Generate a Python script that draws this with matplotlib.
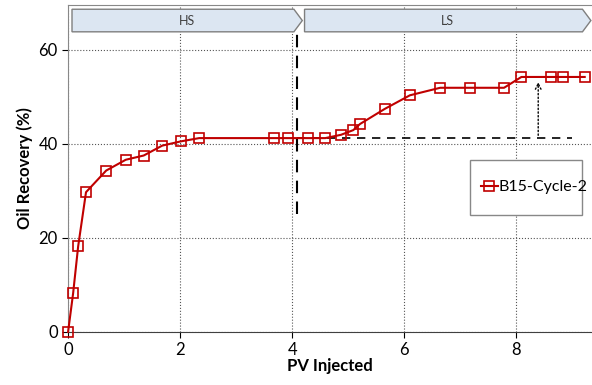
import matplotlib.pyplot as plt
from matplotlib.patches import Polygon, Rectangle

plt.rcParams['font.family'] = ['Lato', 'DejaVu Sans']

pv = [0, 0.09, 0.18, 0.32, 0.68, 1.03, 1.35, 1.68, 2.01, 2.34, 3.68, 3.93,
      4.29, 4.59, 4.87, 5.09, 5.21, 5.65, 6.10, 6.64, 7.18, 7.78, 8.09, 8.62, 8.84, 9.22]
recovery = [0, 8.2, 18.2, 29.7, 34.3, 36.6, 37.5, 39.6, 40.5, 41.2, 41.2, 41.2,
            41.2, 41.2, 41.9, 42.9, 44.2, 47.4, 50.3, 51.9, 51.9, 51.9, 54.2, 54.2, 54.2, 54.2]

switch_pv = 4.08
hs_level = 41.2
ls_level = 54.2

fig = plt.figure(figsize=(5.92, 3.85), dpi=100)
ax = fig.add_axes([0.115, 0.138, 0.885, 0.849])

ax.plot(pv, recovery, color='#c00000', lw=1.5, marker='s', markersize=6.5,
        markerfacecolor='none', markeredgewidth=1.2, label='B15-Cycle-2', clip_on=False, zorder=5)

# HS / LS switch and increment markers
ax.plot([switch_pv, switch_pv], [25, 67], color='black', lw=1.5, ls=(0, (6, 4)))
ax.plot([switch_pv, 9.0], [hs_level, hs_level], color='black', lw=1.2, ls=(0, (5, 4)))
ax.annotate('', xy=(8.39, ls_level - 0.5), xytext=(8.39, hs_level),
            arrowprops=dict(arrowstyle='->', ls=':', lw=1, color='black'))

# banners
def banner(x0, x1, label):
    y0, y1 = 63.8, 68.6
    tip = 0.15
    poly = Polygon([(x0, y0), (x1 - tip, y0), (x1, (y0 + y1) / 2), (x1 - tip, y1), (x0, y1)],
                   closed=True, facecolor='#dce6f2', edgecolor='#7f7f7f', lw=1, zorder=6)
    ax.add_patch(poly)
    ax.text((x0 + x1) / 2, (y0 + y1) / 2, label, ha='center', va='center', fontsize=9, color='#404040', zorder=7)

banner(0.07, 4.18, 'HS')
banner(4.22, 9.33, 'LS')

ax.set_xlim(0, 9.35)
ax.set_ylim(0, 69.5)
ax.set_xticks([0, 2, 4, 6, 8])
ax.set_yticks([0, 20, 40, 60])
ax.grid(True, color='#555555', ls=':', lw=0.8)
ax.tick_params(labelsize=12, direction='out', length=4)
for s in ['left', 'top']:
    ax.spines[s].set_color('#888888')
ax.spines['right'].set_visible(False)
ax.spines['bottom'].set_color('#404040')

ax.set_xlabel('PV Injected', fontsize=12, fontweight='bold', labelpad=0)
ax.set_ylabel('Oil Recovery (%)', fontsize=12, fontweight='bold')

# legend box
ax.add_patch(Rectangle((0.767, 0.358), 0.214, 0.168, transform=ax.transAxes,
                       facecolor='white', edgecolor='#888888', lw=1, zorder=8))
leg = ax.legend(loc='center left', bbox_to_anchor=(0.772, 0.443), fontsize=11.5, frameon=False,
                borderpad=0, handlelength=1.1, handletextpad=0.05)
leg.set_zorder(9)

fig.savefig('out.png', dpi=100)
